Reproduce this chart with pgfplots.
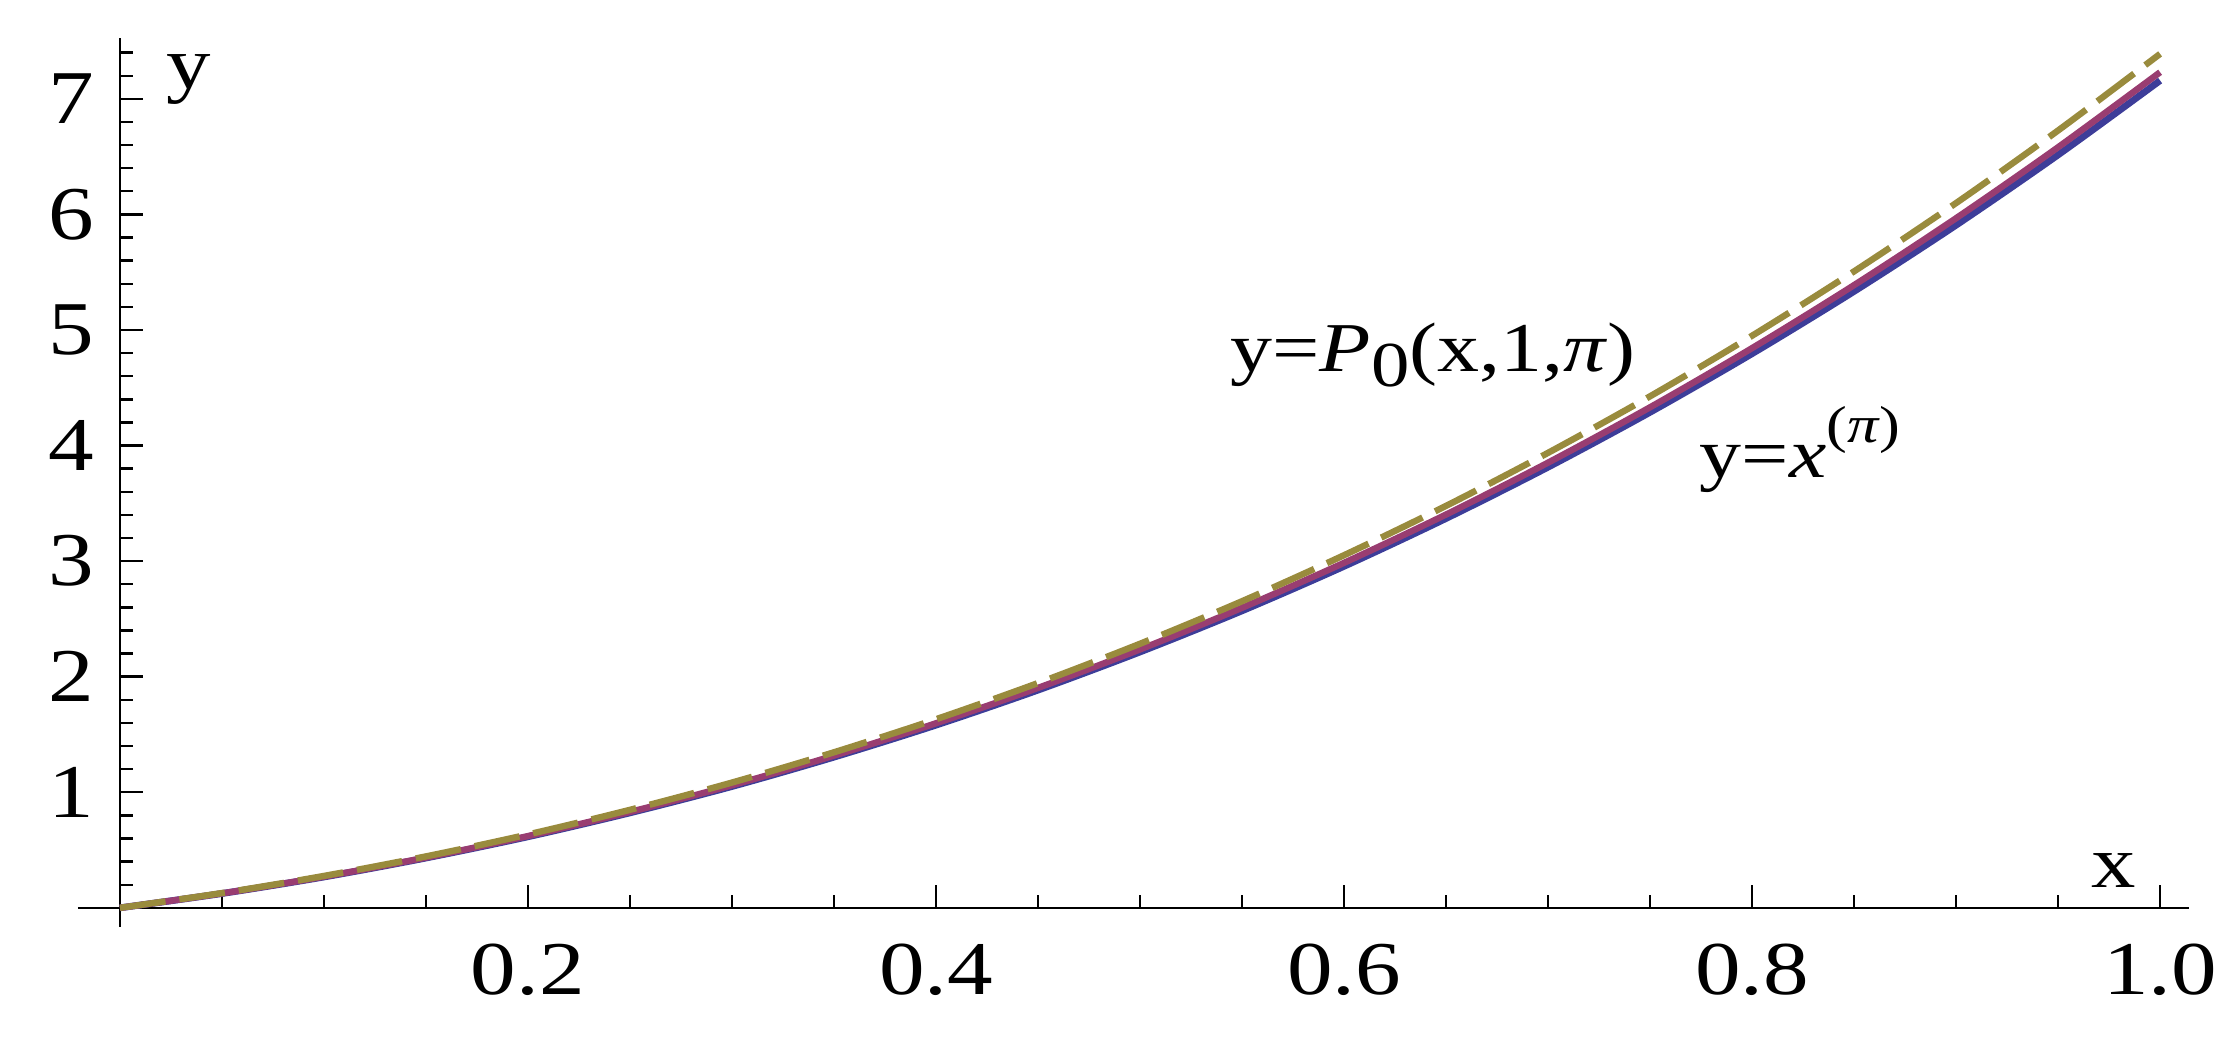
\documentclass[border=0pt]{standalone}
\usepackage{fontspec}
\setmainfont{Liberation Serif}
\newfontfamily\tickfont{Liberation Serif}[FakeStretch=1.2]
\usepackage{pgfplots}
\pgfplotsset{compat=1.18}

\definecolor{mblue}{rgb}{0.24,0.24,0.6}
\definecolor{mpurple}{rgb}{0.6,0.24,0.442}
\definecolor{mgold}{rgb}{0.6,0.547,0.24}

\begin{document}
\begin{tikzpicture}
\begin{axis}[
    scale only axis,
    width=527.8pt, height=222.2pt,
    xmin=-0.0206, xmax=1.0142,
    ymin=-0.164, ymax=7.526,
    axis lines=middle,
    axis line style={-, line width=0.65pt},
    xtick={0.2,0.4,0.6,0.8,1.0},
    ytick={1,2,3,4,5,6,7},
    minor xtick={0.05,0.1,0.15,0.25,0.3,0.35,0.45,0.5,0.55,0.65,0.7,0.75,0.85,0.9,0.95},
    minor ytick={0.2,0.4,0.6,0.8,1.2,1.4,1.6,1.8,2.2,2.4,2.6,2.8,3.2,3.4,3.6,3.8,
                 4.2,4.4,4.6,4.8,5.2,5.4,5.6,5.8,6.2,6.4,6.6,6.8,7.2,7.4},
    tick align=inside,
    major tick length=5.75pt,
    minor tick length=3.25pt,
    tick style={line width=0.6pt, black},
    /pgf/number format/assume math mode=true,
    xticklabel style={/pgf/number format/fixed,
        /pgf/number format/precision=1,
        /pgf/number format/fixed zerofill,
        font=\tickfont\fontsize{19}{21}\selectfont, yshift=-5.5pt},
    yticklabel style={font=\tickfont\fontsize{19}{21}\selectfont, xshift=-3pt},
    clip=false,
]
% x^(pi), exact
\addplot[mblue, line width=1.7pt, smooth] coordinates {
(0,0) (0.05,0.124) (0.1,0.267) (0.15,0.431) (0.2,0.615) (0.25,0.822)
(0.3,1.050) (0.35,1.304) (0.4,1.581) (0.45,1.884) (0.5,2.214)
(0.55,2.570) (0.6,2.955) (0.65,3.369) (0.7,3.813) (0.75,4.288)
(0.8,4.795) (0.85,5.334) (0.9,5.907) (0.95,6.515) (1.0,7.158)};
% second approximation
\addplot[mpurple, line width=1.6pt, smooth] coordinates {
(0,0) (0.05,0.125) (0.1,0.270) (0.15,0.435) (0.2,0.621) (0.25,0.830)
(0.3,1.061) (0.35,1.317) (0.4,1.597) (0.45,1.903) (0.5,2.236)
(0.55,2.596) (0.6,2.985) (0.65,3.403) (0.7,3.852) (0.75,4.331)
(0.8,4.843) (0.85,5.388) (0.9,5.967) (0.95,6.581) (1.0,7.230)};
% P_0(x,1,pi)
\addplot[mgold, line width=1.6pt, smooth, dash pattern=on 11.5pt off 3.5pt] coordinates {
(0,0) (0.05,0.128) (0.1,0.276) (0.15,0.445) (0.2,0.635) (0.25,0.848)
(0.3,1.084) (0.35,1.346) (0.4,1.632) (0.45,1.945) (0.5,2.285)
(0.55,2.653) (0.6,3.051) (0.65,3.478) (0.7,3.937) (0.75,4.426)
(0.8,4.950) (0.85,5.507) (0.9,6.098) (0.95,6.726) (1.0,7.389)};

\node[anchor=base west, inner sep=0, font=\tickfont\fontsize{18.5}{20}\selectfont] at (axis cs:0.0225,7.085) {y};
\node[anchor=base west, inner sep=0, font=\tickfont\fontsize{18.5}{20}\selectfont] at (axis cs:0.966,0.18) {x};

\node[anchor=base west, inner sep=0, font=\tickfont\fontsize{17.5}{20}\selectfont]
    at (axis cs:0.544,4.64) {y=\textit{P}\raisebox{-0.22em}{\fontsize{16}{18}\selectfont 0}(x,1,\textit{π})};
\node[anchor=base west, inner sep=0, font=\tickfont\fontsize{17.5}{20}\selectfont]
    at (axis cs:0.774,3.72) {y=\textit{x}\raisebox{0.5em}{\fontsize{13}{15}\selectfont(\textit{π})}};

\path (axis cs:-0.0588,-1.168) rectangle (axis cs:1.0382,7.855);
\end{axis}
\end{tikzpicture}
\end{document}
